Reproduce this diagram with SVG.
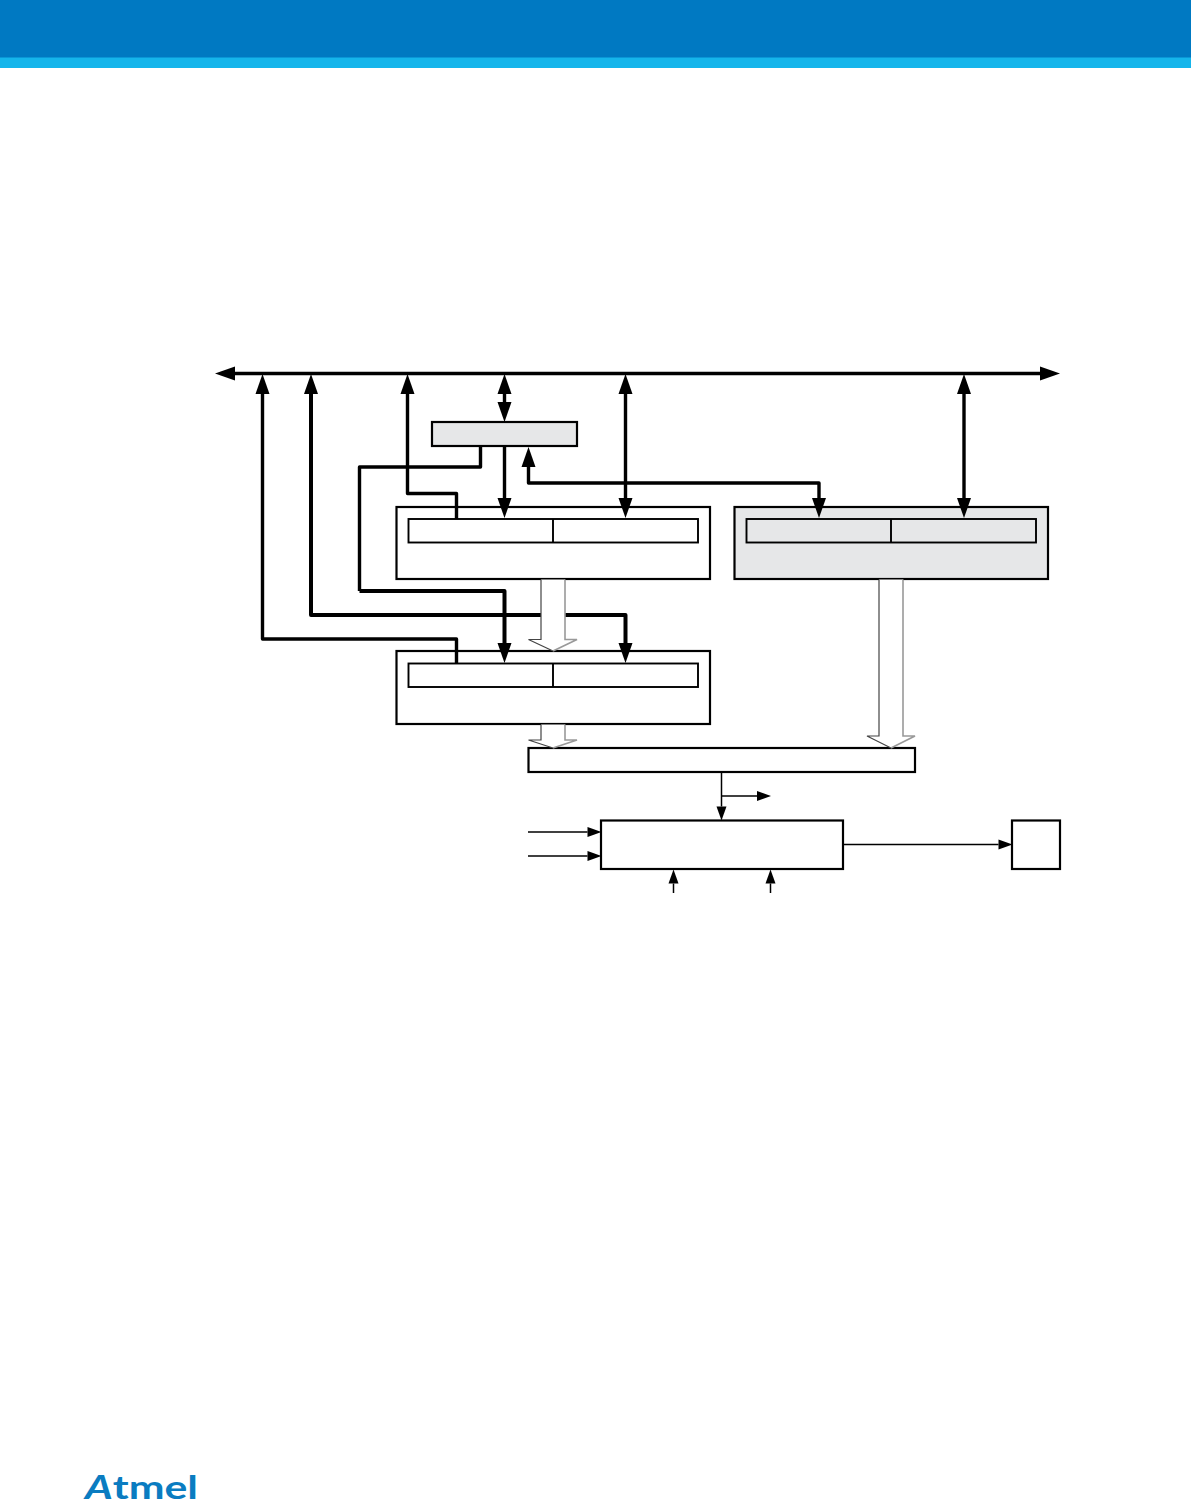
<svg xmlns="http://www.w3.org/2000/svg" width="1191" height="1506" viewBox="0 0 1191 1506">
<style>
.box{fill:#fff;stroke:#000;stroke-width:2.2}
.gray{fill:#e6e7e8}
.cell{fill:none;stroke:#000;stroke-width:1.9}
.bus{fill:none;stroke:#000;stroke-width:3.4;stroke-linejoin:round}
.heavy{fill:none;stroke:#000;stroke-width:4;stroke-linejoin:round}
.thin{fill:none;stroke:#000;stroke-width:1.5}
.hollow{fill:#fff;stroke:none}
.edgeL{fill:none;stroke:#444;stroke-width:1.2}
.edgeR{fill:none;stroke:#999;stroke-width:1.6}
.logo{font-family:"Lato","Open Sans",sans-serif;fill:#0a7cc1;font-size:33px;font-weight:700}
</style>
<defs>
<marker id="big" markerUnits="userSpaceOnUse" markerWidth="22" markerHeight="16" refX="0" refY="7" orient="auto-start-reverse" overflow="visible"><path d="M0 0L20 7L0 14Z" fill="#000"/></marker>
<marker id="small" markerUnits="userSpaceOnUse" markerWidth="16" markerHeight="12" refX="0" refY="5" orient="auto-start-reverse" overflow="visible"><path d="M0 0L14 5L0 10Z" fill="#000"/></marker>
</defs>
<g id="header"><rect x="0" y="0" width="1191" height="58" fill="#0079c2"/><rect x="0" y="57.500" width="1191" height="10.500" fill="#15b5eb"/></g>
<g id="node-top"><rect class="box gray" x="432" y="422" width="145" height="24"/></g>
<g id="node-left-upper"><rect class="box" x="396.500" y="507" width="313.500" height="72"/><rect class="cell" x="408.500" y="519" width="289.500" height="23.500"/><path class="cell" d="M553 519V542.500"/></g>
<g id="node-right-upper"><rect class="box gray" x="734.500" y="507" width="313.500" height="72"/><rect class="cell" x="746.500" y="519" width="289.500" height="23.500"/><path class="cell" d="M891 519V542.500"/></g>
<g id="node-left-lower"><rect class="box" x="396.500" y="651" width="313.500" height="73"/><rect class="cell" x="408.500" y="663.500" width="289.500" height="23.500"/><path class="cell" d="M553 663.500V687"/></g>
<g id="node-bar"><rect class="box" x="528.500" y="748" width="386.500" height="24"/></g>
<g id="node-counter"><rect class="box" x="601" y="820.500" width="242" height="48.500"/></g>
<g id="node-output"><rect class="box" x="1012" y="820.500" width="48" height="48.500"/></g>
<g id="connectors">
<path class="bus" d="M235 373.500H1040" marker-start="url(#big)" marker-end="url(#big)"/>
<path class="bus" d="M456.500 663V639H262.500V394" marker-end="url(#big)"/>
<path class="heavy" d="M311 394V615H625.500V643" marker-start="url(#big)" marker-end="url(#big)"/>
<path class="bus" d="M456.500 519V493.500H407.500V394" marker-end="url(#big)"/>
<path class="bus" d="M504.500 394V402" marker-start="url(#big)" marker-end="url(#big)"/>
<path class="bus" d="M504.500 445V498" marker-end="url(#big)"/>
<path class="bus" d="M480.500 445V467H359.500V591"/>
<path class="heavy" d="M359.500 591H504.500V643" marker-end="url(#big)"/>
<path class="bus" d="M528.500 467V483H819V498" marker-start="url(#big)" marker-end="url(#big)"/>
<path class="bus" d="M625.500 394V498" marker-start="url(#big)" marker-end="url(#big)"/>
<path class="bus" d="M964 394V498" marker-start="url(#big)" marker-end="url(#big)"/>
<path class="thin" d="M721.500 772V806.500" marker-end="url(#small)"/>
<path class="thin" d="M721.500 796H757" marker-end="url(#small)"/>
<path class="thin" d="M528 832H587.500" marker-end="url(#small)"/>
<path class="thin" d="M528 856H587.500" marker-end="url(#small)"/>
<path class="thin" d="M673.500 893V883.500" marker-end="url(#small)"/>
<path class="thin" d="M770.500 893V883.500" marker-end="url(#small)"/>
<path class="thin" d="M843 844.500H998.500" marker-end="url(#small)"/>
</g>
<g id="hollow-arrows">
<g id="flow-1"><path class="hollow" d="M541 579.500H565V639.500H577L553 651L529 639.500H541Z"/><path class="edgeL" d="M541 579.500V639.500H528.500L553 651"/><path class="edgeR" d="M565 579.500V639.500H577L553 651"/></g>
<g id="flow-2"><path class="hollow" d="M541 724.500H565V740H577L553 748L529 740H541Z"/><path class="edgeL" d="M541 724.500V740H528.500L553 748"/><path class="edgeR" d="M565 724.500V740H577L553 748"/></g>
<g id="flow-3"><path class="hollow" d="M879 579.500H903V736H915L891 748L867 736H879Z"/><path class="edgeL" d="M879 579.500V736H867L891 748"/><path class="edgeR" d="M903 579.500V736H915L891 748"/></g>
</g>
<g id="logo"><text class="logo" x="85" y="1499" textLength="113" lengthAdjust="spacingAndGlyphs"><tspan font-style="italic">A</tspan>tmel</text></g>
</svg>
